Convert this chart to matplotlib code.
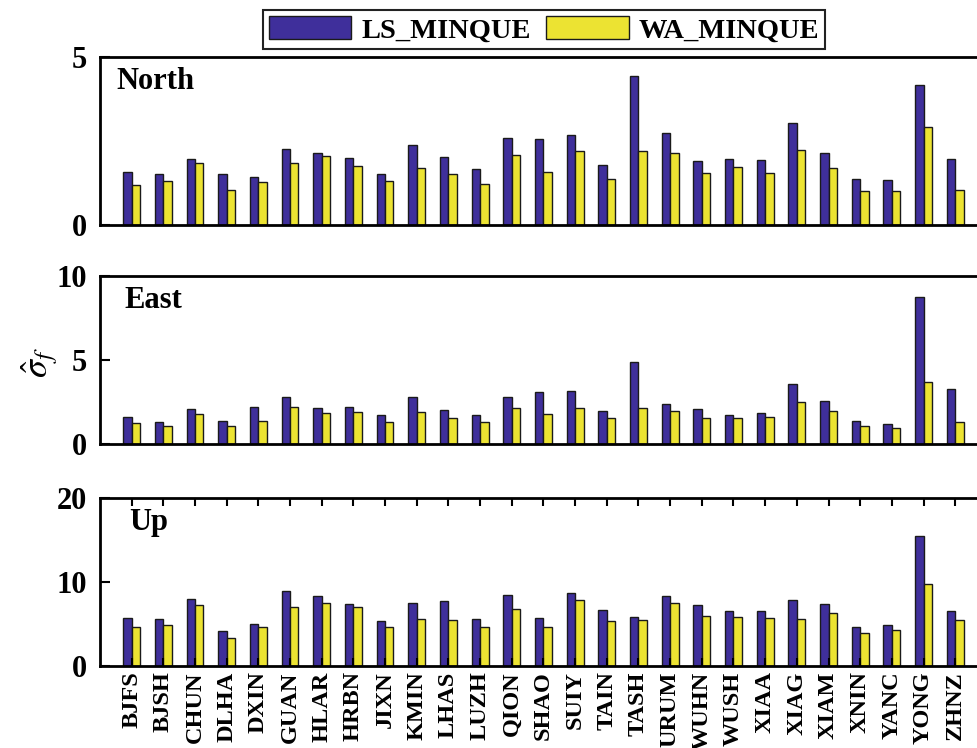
import matplotlib
matplotlib.use('Agg')
import matplotlib.pyplot as plt
import numpy as np
from matplotlib.patches import Patch

# station names and sigma estimates
stations = ['BJFS', 'BJSH', 'CHUN', 'DLHA', 'DXIN', 'GUAN', 'HLAR', 'HRBN', 'JIXN',
            'KMIN', 'LHAS', 'LUZH', 'QION', 'SHAO', 'SUIY', 'TAIN', 'TASH', 'URUM',
            'WUHN', 'WUSH', 'XIAA', 'XIAG', 'XIAM', 'XNIN', 'YANC', 'YONG', 'ZHNZ']

north_ls = [1.57, 1.52, 1.95, 1.52, 1.43, 2.25, 2.13, 1.99, 1.52, 2.37, 2.02, 1.67, 2.58, 2.56,
            2.66, 1.79, 4.42, 2.74, 1.90, 1.95, 1.92, 3.03, 2.14, 1.36, 1.34, 4.17, 1.97]
north_wa = [1.20, 1.31, 1.84, 1.05, 1.29, 1.84, 2.04, 1.76, 1.31, 1.68, 1.51, 1.23, 2.08, 1.57,
            2.21, 1.37, 2.21, 2.15, 1.54, 1.73, 1.53, 2.24, 1.70, 1.01, 1.00, 2.92, 1.05]

east_ls = [1.60, 1.34, 2.11, 1.40, 2.19, 2.81, 2.13, 2.19, 1.72, 2.79, 2.02, 1.74, 2.79, 3.12,
           3.14, 1.97, 4.88, 2.41, 2.07, 1.74, 1.86, 3.56, 2.55, 1.40, 1.19, 8.75, 3.30]
east_wa = [1.25, 1.10, 1.78, 1.07, 1.40, 2.23, 1.84, 1.92, 1.32, 1.94, 1.56, 1.34, 2.15, 1.80,
           2.15, 1.56, 2.13, 1.97, 1.56, 1.56, 1.60, 2.49, 1.97, 1.10, 0.98, 3.71, 1.30]

up_ls = [5.64, 5.52, 7.98, 4.09, 5.00, 8.85, 8.33, 7.31, 5.36, 7.46, 7.66, 5.56, 8.38, 5.71,
         8.61, 6.67, 5.76, 8.30, 7.27, 6.47, 6.51, 7.82, 7.35, 4.57, 4.88, 15.40, 6.47]
up_wa = [4.61, 4.85, 7.19, 3.26, 4.61, 7.03, 7.50, 6.99, 4.65, 5.56, 5.44, 4.65, 6.79, 4.65,
         7.78, 5.28, 5.40, 7.50, 5.95, 5.80, 5.68, 5.60, 6.31, 3.85, 4.29, 9.73, 5.44]

panel_names = ['North', 'East', 'Up']
y_max = [5, 10, 20]
y_ticks = [[0, 5], [0, 5, 10], [0, 10, 20]]
legend_labels = ['LS_MINQUE', 'WA_MINQUE']

c_ls = '#3f2f9b'
c_wa = '#ece332'

plt.rcParams['font.family'] = 'Liberation Serif'
plt.rcParams['font.weight'] = 'normal'
plt.rcParams['mathtext.fontset'] = 'stix'

fig = plt.figure(figsize=(9.77, 7.48), dpi=100)

# axes boxes in figure fractions (right edge runs off the canvas, as in the original)
boxes = [[0.1024, 0.6992, 0.9077, 0.225],
         [0.1024, 0.4060, 0.9077, 0.2254],
         [0.1024, 0.1100, 0.9077, 0.2246]]
label_pos = [(0.018, 0.94), (0.027, 0.94), (0.033, 0.94)]

data = [(north_ls, north_wa), (east_ls, east_wa), (up_ls, up_wa)]
x = np.arange(1, len(stations) + 1)
w = 0.265

axes = []
for k, (ls, wa) in enumerate(data):
    ax = fig.add_axes(boxes[k])
    ax.bar(x - w / 2, ls, width=w, color=c_ls, edgecolor='#1a1a1a', linewidth=1.0)
    ax.bar(x + w / 2, wa, width=w, color=c_wa, edgecolor='#1a1a1a', linewidth=1.0)
    ax.set_xlim(0, 28)
    ax.set_ylim(0, y_max[k])
    ax.set_yticks(y_ticks[k])
    ax.set_yticklabels([str(t) for t in y_ticks[k]], fontsize=22, fontweight='bold')
    ax.tick_params(axis='y', direction='in', length=7, width=1.5, pad=9.5)
    for s in ax.spines.values():
        s.set_linewidth(2)
    ax.text(label_pos[k][0], label_pos[k][1], panel_names[k], transform=ax.transAxes,
            fontsize=22, fontweight='bold', va='top', ha='left')
    if k < 2:
        ax.set_xticks([])
    else:
        ax.set_xticks(x)
        ax.set_xticklabels(stations, rotation=90, fontsize=17.5, fontweight='bold')
        ax.tick_params(axis='x', direction='in', length=6, width=1.5, top=True, pad=4)
    axes.append(ax)

fig.text(0.041, 0.515, r'$\hat{\sigma}_f$', rotation=90, fontsize=26,
         ha='center', va='center')

handles = [Patch(facecolor=c_ls, edgecolor='#1a1a1a'), Patch(facecolor=c_wa, edgecolor='#1a1a1a')]
leg = fig.legend(handles, legend_labels, loc='center', bbox_to_anchor=(0.557, 0.9605), ncol=2,
                 fancybox=False, edgecolor='#222222', framealpha=1,
                 prop={'family': 'Liberation Serif', 'weight': 'bold', 'size': 20.5},
                 handlelength=2.9, handleheight=0.9, columnspacing=0.55, handletextpad=0.35,
                 borderpad=0.2, borderaxespad=0)
leg.get_frame().set_linewidth(1.5)

fig.savefig('out.png', dpi=100)
